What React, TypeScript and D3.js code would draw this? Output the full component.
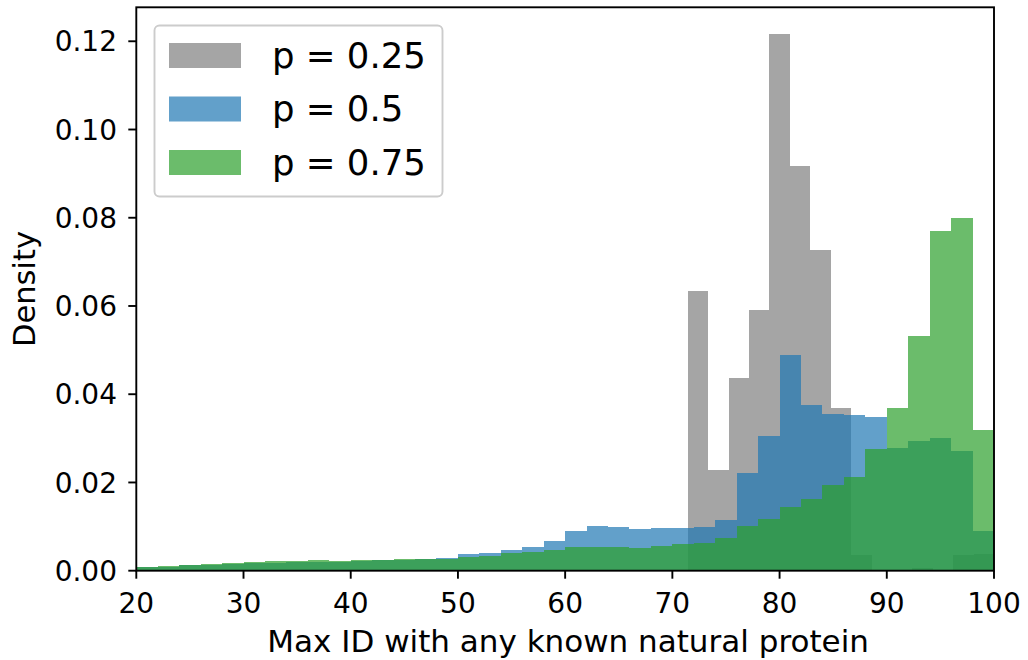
import React from "react";
import * as d3 from "d3";

// ---- data ----
const seriesLabels = ["p = 0.25", "p = 0.5", "p = 0.75"];
const seriesColors = ["#7f7f7f", "#1f77b4", "#2ca02c"];

// p = 0.25 : 15 bins from 71.43 to 100
const greyBinStart = 71.43;
const greyBinWidth = 1.905;
const greyValues = [
  0.0634, 0.0228, 0.0437, 0.0591, 0.1216, 0.0917, 0.0727, 0.0369, 0.0036,
  0.0002, 0.0002, 0.0005, 0.0002, 0.0036, 0.0038,
];

// p = 0.5 : bins of width 2 from 20 to 100
const blueBinStart = 20;
const blueBinWidth = 2;
const blueValues = [
  0.0008, 0.0009, 0.0012, 0.0014, 0.0016, 0.0017, 0.0018, 0.0019, 0.0019,
  0.002, 0.0023, 0.0024, 0.0025, 0.0026, 0.0028, 0.0037, 0.004, 0.0047,
  0.0053, 0.0068, 0.009, 0.0101, 0.01, 0.0094, 0.0096, 0.0097, 0.0099, 0.0115,
  0.0222, 0.0306, 0.0488, 0.0375, 0.0355, 0.0352, 0.0349, 0.0278, 0.0295,
  0.0301, 0.0272, 0.0091,
];

// p = 0.75 : bins of width 2 from 20 to 100
const greenBinStart = 20;
const greenBinWidth = 2;
const greenValues = [
  0.0008, 0.0011, 0.0014, 0.0016, 0.0018, 0.002, 0.0022, 0.0021, 0.0024,
  0.0021, 0.0024, 0.0024, 0.0027, 0.0027, 0.0026, 0.0031, 0.0034, 0.004,
  0.0043, 0.0046, 0.0053, 0.0053, 0.0053, 0.0052, 0.0056, 0.006, 0.0063,
  0.0074, 0.0102, 0.0118, 0.0145, 0.0163, 0.0194, 0.0212, 0.0275, 0.0368,
  0.0531, 0.0771, 0.0799, 0.0318,
];

const xTicks = [20, 30, 40, 50, 60, 70, 80, 90, 100];
const yTicks = [0, 0.02, 0.04, 0.06, 0.08, 0.1, 0.12];
const xLabel = "Max ID with any known natural protein";
const yLabel = "Density";

const W = 1028;
const H = 660;
const left = 136.3;
const right = 994;
const top = 7.3;
const bottom = 570.7;
const FONT = "'DejaVu Sans', sans-serif";

export default function App() {
  const x = d3.scaleLinear().domain([20, 100]).range([left, right]);
  const y = d3.scaleLinear().domain([0, 0.1277]).range([bottom, top]);

  const series = [
    { start: greyBinStart, width: greyBinWidth, values: greyValues },
    { start: blueBinStart, width: blueBinWidth, values: blueValues },
    { start: greenBinStart, width: greenBinWidth, values: greenValues },
  ];

  const fmtY = d3.format(".2f");

  return (
    <svg
      width={W}
      height={H}
      style={{ position: "absolute", left: 0, top: 0, background: "#fff" }}
    >
      <defs>
        <clipPath id="plotclip">
          <rect x={left} y={top} width={right - left} height={bottom - top} />
        </clipPath>
      </defs>
      <g clipPath="url(#plotclip)">
        {series.map((s, si) => (
          <g key={si} fill={seriesColors[si]} fillOpacity={0.7}>
            {s.values.map((v, i) => {
              const x0 = x(s.start + i * s.width);
              const x1 = x(s.start + (i + 1) * s.width);
              return (
                <rect
                  key={i}
                  x={x0}
                  width={x1 - x0}
                  y={y(v)}
                  height={y(0) - y(v)}
                  shapeRendering="crispEdges"
                />
              );
            })}
          </g>
        ))}
      </g>

      {/* spines */}
      <rect
        x={left}
        y={top}
        width={right - left}
        height={bottom - top}
        fill="none"
        stroke="#000"
        strokeWidth={1.9}
      />

      {/* x ticks */}
      {xTicks.map((t) => (
        <g key={t}>
          <line x1={x(t)} x2={x(t)} y1={bottom} y2={bottom + 8} stroke="#000" strokeWidth={1.9} />
          <text
            x={x(t)}
            y={612.5}
            textAnchor="middle"
            fontFamily={FONT}
            fontSize={28}
            fill="#000"
          >
            {t}
          </text>
        </g>
      ))}

      {/* y ticks */}
      {yTicks.map((t) => (
        <g key={t}>
          <line x1={left - 8} x2={left} y1={y(t)} y2={y(t)} stroke="#000" strokeWidth={1.9} />
          <text
            x={117}
            y={y(t)}
            dy="0.36em"
            textAnchor="end"
            fontFamily={FONT}
            fontSize={28}
            fill="#000"
          >
            {fmtY(t)}
          </text>
        </g>
      ))}

      <text
        x={(left + right) / 2 + 3}
        y={652}
        textAnchor="middle"
        fontFamily={FONT}
        fontSize={31}
        fill="#000"
      >
        {xLabel}
      </text>
      <text
        transform={`translate(34.5, ${(top + bottom) / 2}) rotate(-90)`}
        textAnchor="middle"
        fontFamily={FONT}
        fontSize={30.5}
        fill="#000"
      >
        {yLabel}
      </text>

      {/* legend */}
      <rect
        x={154.5}
        y={25.5}
        width={288}
        height={171}
        rx={5}
        fill="#fff"
        fillOpacity={0.8}
        stroke="#cccccc"
        strokeWidth={1.9}
      />
      {seriesLabels.map((lab, i) => (
        <g key={lab}>
          <rect
            x={169}
            y={43 + i * 53.5}
            width={72}
            height={25}
            fill={seriesColors[i]}
            fillOpacity={0.7}
          />
          <text
            x={272}
            y={67.7 + i * 53.5}
            fontFamily={FONT}
            fontSize={35.5}
            fill="#000"
          >
            {lab}
          </text>
        </g>
      ))}
    </svg>
  );
}
